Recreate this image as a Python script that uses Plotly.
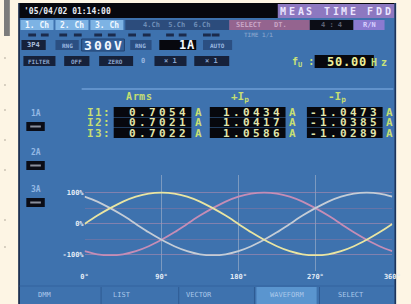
import plotly.graph_objects as go

# ---------------- data ----------------
phase_deg = [0, 15, 30, 45, 60, 75, 90, 105, 120, 135, 150, 165, 180,
             195, 210, 225, 240, 255, 270, 285, 300, 315, 330, 345, 360]
wave_u = [0, 27, 51, 72, 88, 98, 101, 98, 88, 72, 51, 27, 0,
          -27, -51, -72, -88, -98, -101, -98, -88, -72, -51, -27, 0]
wave_v = [88, 72, 51, 27, 0, -27, -51, -72, -88, -98, -101, -98, -88,
          -72, -51, -27, 0, 27, 51, 72, 88, 98, 101, 98, 88]
wave_w = [-88, -98, -101, -98, -88, -72, -51, -27, 0, 27, 51, 72, 88,
          98, 101, 98, 88, 72, 51, 27, 0, -27, -51, -72, -88]

channels = ["I1:", "I2:", "I3:"]
arms = ["0.7054", "0.7021", "0.7022"]
ipk_pos = ["1.0434", "1.0417", "1.0586"]
ipk_neg = ["-1.0473", "-1.0385", "-1.0289"]
col_headers = ["Arms", "+Ip", "-Ip"]

x_tick_vals = [0, 90, 180, 270, 360]
x_tick_text = ["0°", "90°", "180°", "270°", "360°"]
y_tick_vals = [-100, 0, 100]
y_tick_text = ["-100%", "0%", "100%"]
y_half_vals = [-50, 50]

date_text = "'05/04/02 01:14:00"
mode_text = "MEAS TIME FDD"
volt_range = "300V"
curr_range = "1A"
freq_text = "50.00"
soft_keys = ["DMM", "LIST", "VECTOR", "WAVEFORM", "SELECT"]

# ---------------- helpers ----------------
W, H = 411, 304
MONO = "DejaVu Sans Mono"


def px(x):
    return x / W


def py(y):
    return 1 - y / H


shapes = []
annos = []


def rect(x0, y0, x1, y1, color, line=None, lw=0):
    shapes.append(dict(type="rect", xref="paper", yref="paper",
                       x0=px(x0), x1=px(x1), y0=py(y1), y1=py(y0),
                       fillcolor=color, layer="below",
                       line=dict(color=line or color, width=lw)))


def hline(x0, x1, y, color, w=1):
    shapes.append(dict(type="line", xref="paper", yref="paper",
                       x0=px(x0), x1=px(x1), y0=py(y), y1=py(y),
                       layer="below", line=dict(color=color, width=w)))


def vline(x, y0, y1, color, w=1):
    shapes.append(dict(type="line", xref="paper", yref="paper",
                       x0=px(x), x1=px(x), y0=py(y0), y1=py(y1),
                       layer="below", line=dict(color=color, width=w)))


def text(x, y, s, color, size, anchor="center", weight="bold", family=MONO):
    annos.append(dict(xref="paper", yref="paper", x=px(x), y=py(y),
                      text=s, showarrow=False, xanchor=anchor, yanchor="middle",
                      borderpad=0,
                      font=dict(family=family, size=size, color=color, weight=weight)))


def lcd(x_left, y, s, pitch, color, size):
    """Draw a string on a fixed character pitch (LCD-like spacing)."""
    for i, ch in enumerate(s):
        if ch == " ":
            continue
        text(x_left + pitch * (i + 0.5), y, ch, color, size)


# ---------------- frame ----------------
BLUE = "#3e72ae"
DARK = "#1b2b4c"
rect(0, 0, 6, 36, "#7c7c7c")
for yy in [58, 85, 110, 140, 170, 220, 247]:
    hline(0, 2, yy, "#b0a89a", 1)
rect(15, 3, 404, 304, BLUE)
vline(15.5, 3, 304, "#16233d", 1.5)
vline(403, 3, 304, "#1e3358", 1.5)

# top bar
rect(16, 3, 402, 18, "#07080e")
text(20, 11, date_text, "#e8ecf4", 8, "left")
rect(282, 4, 402, 18, "#8d78c0")
lcd(283, 11, mode_text, 9.0, "#ece6ff", 10)

# row 2: channel tabs
for i, lab in enumerate(["1. Ch", "2. Ch", "3. Ch"]):
    x0 = 17 + i * 36
    rect(x0, 20, x0 + 34, 30, "#7db3e4")
    text(x0 + 17, 25, lab, "#f2f8ff", 8)
rect(125, 20, 232, 30, "#2c4c7c")
text(178, 25, "4.Ch  5.Ch  6.Ch", "#6f8fb8", 7)
rect(232, 20, 315, 30, "#94648f")
text(252, 25, "SELECT", "#c9a4c6", 7)
text(285, 25, "DT.", "#c9a4c6", 7)
rect(315, 20, 360, 30, "#0c0d16")
text(337, 25, "4 : 4", "#5e6478", 7)
rect(360, 20, 392, 30, "#8a7ad0")
text(376, 25, "R/N", "#d8d0ff", 7)

# row 3: dashes
for x0 in [25, 38, 57, 72, 93, 107, 128, 143, 167, 180, 205, 214]:
    hline(x0, x0 + 8, 35, DARK, 3)
text(262, 35, "TIME 1/1", "#7d9dc8", 6)

# row 4: wiring / ranges
rect(18, 40, 43, 50, "#16213a")
text(30, 45, "3P4", "#a9bedc", 7)
rect(53, 40, 77, 50, "#2b4f82")
text(65, 45, "RNG", "#9ab8e0", 6)
rect(80, 39, 124, 51, "#33609a", "#20406e", 1)
lcd(82, 45, volt_range, 10, "#f4f8ff", 13)
rect(130, 40, 152, 50, "#2b4f82")
text(141, 45, "RNG", "#9ab8e0", 6)
rect(160, 40, 198, 50, "#07080e")
lcd(198 - 9 * len(curr_range) - 1, 45, curr_range, 9, "#f4f8ff", 12)
rect(205, 40, 235, 50, "#2b4f82")
text(220, 45, "AUTO", "#9ab8e0", 6)

# row 5
rect(20, 56, 53, 66, "#16213a")
text(36, 61, "FILTER", "#8aa4cc", 6)
rect(62, 56, 88, 66, "#16213a")
text(75, 61, "OFF", "#8aa4cc", 6)
rect(98, 56, 133, 66, "#16213a")
text(115, 61, "ZERO", "#8aa4cc", 6)
text(143, 61, "0", "#9ab8e0", 7)
rect(155, 56, 188, 66, "#16213a")
text(171, 61, "× 1", "#8aa4cc", 7)
rect(196, 56, 232, 66, "#16213a")
text(214, 61, "× 1", "#8aa4cc", 7)
text(296, 62, "f<sub>U</sub> :", "#c9e27a", 10, "left")
rect(320, 55, 381, 68, "#07080e")
lcd(332, 62, freq_text, 8.2, "#eef09a", 12)
lcd(376, 62, "Hz", 10, "#c9e27a", 10)

# divider line
hline(80, 401, 89, "#6e9ed4", 1.5)

# left channel indicators
for lab, ly in [("1A", 113), ("2A", 152), ("3A", 189)]:
    text(33, ly, lab, "#93b8e4", 8)
    rect(23, ly + 9, 42, ly + 18, "#0a0c16")
    hline(27, 38, ly + 13.5, "#8a8f9c", 2)

# table
GY = "#c6df72"
VAL = "#e2e6ac"
for hx, hs in zip([139, 243, 343], col_headers):
    if hs == "Arms":
        lcd(hx - 14, 97, hs, 7, GY, 10)
    else:
        text(hx, 97, hs[:-1] + "<sub>p</sub>", GY, 11)
for r in range(3):
    yy = 112 + r * 10.5
    lcd(85, yy, channels[r], 8.2, GY, 11)
    for (bx0, bx1, ux), val in zip([(113, 193, 200), (212, 290, 297), (312, 390, 397)],
                                   [arms[r], ipk_pos[r], ipk_neg[r]]):
        rect(bx0, yy - 5, bx1, yy + 5, "#07080e")
        pitch = 10.3
        lcd(bx1 - 4 - pitch * len(val), yy, val, pitch, VAL, 11)
        text(ux, yy, "A", GY, 11)

# bottom soft keys
hline(16, 402, 286, "#33639e", 1)
rect(260, 287, 322, 304, "#5a95cf")
for sx in [100, 180, 258, 325]:
    vline(sx, 287, 304, "#2e5a92", 1)
for lab, cx in zip(soft_keys, [42, 122, 201, 291, 357]):
    text(cx, 295, lab, "#aac8ea", 7, weight="normal")

# ---------------- waveform chart ----------------
fig = go.Figure()
for yv, col in [(wave_w, "#c58db6"), (wave_v, "#c4ccd6"), (wave_u, "#e9e5a2")]:
    fig.add_trace(go.Scatter(x=phase_deg, y=yv, mode="lines",
                             line=dict(color=col, width=1.8, shape="spline"),
                             hoverinfo="skip", showlegend=False))

fig.update_layout(
    width=W, height=H, margin=dict(l=0, r=0, t=0, b=0),
    paper_bgcolor="#fdf5e4", plot_bgcolor="#050508",
    shapes=shapes, annotations=annos, showlegend=False,
    xaxis=dict(domain=[px(83), px(400)], range=[0, 360], tickvals=x_tick_vals,
               ticktext=x_tick_text, showgrid=True, gridcolor="rgba(200,205,215,0.45)",
               gridwidth=1, zeroline=False, showline=False, ticks="",
               tickfont=dict(family=MONO, size=7, color="#e4ecf6", weight="bold"),
               fixedrange=True),
    yaxis=dict(domain=[py(271), py(175)], range=[-152, 158], tickvals=y_tick_vals,
               ticktext=y_tick_text, showgrid=True, gridcolor="rgba(175,140,175,0.6)",
               gridwidth=1, zeroline=False, showline=False, ticks="",
               minor=dict(tickvals=y_half_vals, showgrid=True,
                          gridcolor="rgba(150,120,160,0.45)", gridwidth=1, ticks=""),
               tickfont=dict(family=MONO, size=7, color="#e4ecf6", weight="bold"),
               fixedrange=True),
)

fig.write_html("out.html", config={"displayModeBar": False},
               post_script="document.body.style.margin='0';"
                           "document.body.style.overflow='hidden';")
